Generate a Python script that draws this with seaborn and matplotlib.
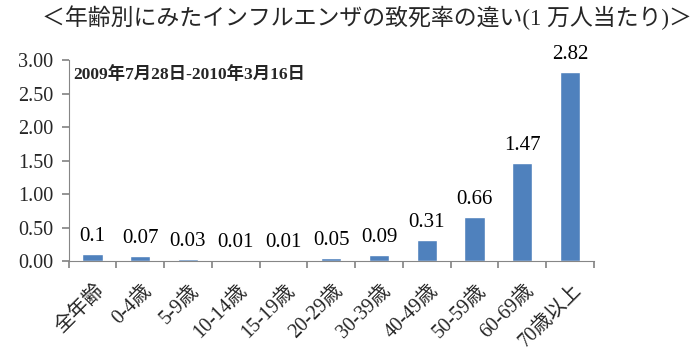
import matplotlib
matplotlib.use("Agg")
import matplotlib.pyplot as plt
import seaborn as sns
import pandas as pd

# data
ages = ['全年齢', '0-4歳', '5-9歳', '10-14歳', '15-19歳', '20-29歳',
        '30-39歳', '40-49歳', '50-59歳', '60-69歳', '70歳以上']
rates = [0.1, 0.07, 0.03, 0.01, 0.01, 0.05, 0.09, 0.31, 0.66, 1.47, 2.82]
labels = ['0.1', '0.07', '0.03', '0.01', '0.01', '0.05', '0.09', '0.31', '0.66', '1.47', '2.82']
y_ticks = [0.0, 0.5, 1.0, 1.5, 2.0, 2.5, 3.0]

sns.set_theme(style='white')
fam = ['Liberation Serif', 'Noto Sans CJK JP', 'DejaVu Sans']
plt.rcParams['font.family'] = fam

df = pd.DataFrame({'age': ages, 'rate': rates})

fig = plt.figure(figsize=(6.93, 3.58), dpi=100)
ax = fig.add_axes([0.099, 0.271, 0.758, 0.561])
sns.barplot(data=df, x='age', y='rate', color='#4F81BD', saturation=1,
            width=0.42, ax=ax)

ax.set_ylim(0, 3.0)
ax.set_xlim(-0.5, len(ages) - 0.5)
ax.set_yticks(y_ticks)
ax.set_yticklabels([f'{v:.2f}' for v in y_ticks], fontsize=14.5)
ax.set_xlabel('')
ax.set_ylabel('')

# value labels above bars
for i, (v, s) in enumerate(zip(rates, labels)):
    ax.text(i, v + 0.12, s, ha='center', va='bottom', fontsize=15, color='#000000')

# category ticks between bars
ax.set_xticks([i + 0.5 for i in range(-1, len(ages))], minor=False)
ax.set_xticklabels([])
ax.tick_params(axis='x', which='major', length=5, color='#868686', direction='out', bottom=True)
ax.tick_params(axis='y', length=5, color='#868686', direction='out', left=True, pad=6)
for i, a in enumerate(ages):
    ax.text(i + 0.04, -0.3, a, rotation=45, ha='right', va='top', fontsize=14.5,
            rotation_mode='anchor', transform=ax.transData)

for sp in ['top', 'right']:
    ax.spines[sp].set_visible(False)
for sp in ['left', 'bottom']:
    ax.spines[sp].set_color('#868686')
    ax.spines[sp].set_linewidth(0.8)

ax.text(0.008, 0.93, '2009年7月28日-2010年3月16日', transform=ax.transAxes,
        ha='left', va='center', fontsize=12.5, fontweight='semibold')

fig.text(0.53, 0.95, '＜年齢別にみたインフルエンザの致死率の違い(1 万人当たり)＞',
         ha='center', va='center', fontsize=16.5)

fig.savefig('out.png', dpi=100)
